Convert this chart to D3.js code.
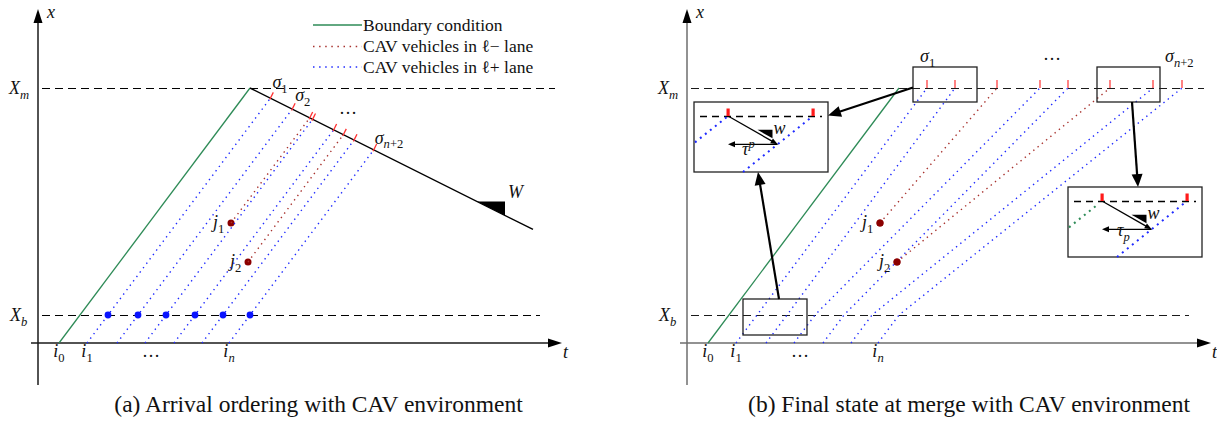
<!DOCTYPE html>
<html>
<head>
<meta charset="utf-8">
<script src="https://cdn.jsdelivr.net/npm/d3@7"></script>
<style>
  body { margin: 0; background: #fff; }
  svg { display: block; }
  text { font-family: "Liberation Serif", "Times New Roman", serif; fill: #111; }
</style>
</head>
<body>
<svg id="chart" width="1217" height="422"></svg>
<script>
// ---------------- data (time t on the horizontal axis, position x on the vertical) ----------------
const Xb = 2.8;                 // entry of the control zone
const Xm = 25.5;                // merge point
const freeFlow = 1.335;         // free-flow speed, dx/dt
const waveSpeed = -0.5;         // backward wave W, dx/dt
const boundaryT0 = 2.1;         // i0 : boundary trajectory leaves x = 0
const waveEndT = 49.5;          // end of the drawn wave
const plusEntryT = [7.0, 10.0, 12.8, 15.7, 18.5, 21.2];   // ℓ+ vehicles reaching X_b
const minusT = [19.3, 21.0];                              // j1, j2 (time)
const minusX = [12.0, 8.1];                               // j1, j2 (position)
const minusNames = ["1", "2"];
const plusMergeT = [24.0, 26.8, 35.3, 38.1, 46.6, 49.5];  // final state: ℓ+ at X_m
const minusMergeT = [31.0, 42.3];                         // final state: ℓ− at X_m
const legendLabels = ["Boundary condition", "CAV vehicles in \u2113\u2212 lane", "CAV vehicles in \u2113+ lane"];
const captions = ["(a) Arrival ordering with CAV environment", "(b) Final state at merge with CAV environment"];

// ---------------- styles ----------------
const GREEN = "#2e8b57", BLUE = "#1f2bff", RED_DOT = "#a8322e", DARK_RED = "#8b0000", TICK_RED = "#ff3030";

const svg = d3.select("#chart");
const tScale = d3.scaleLinear().domain([0, 52.4]).range([38, 562]);
const xScale = d3.scaleLinear().domain([0, 33.3]).range([343, 10]);
const path = d3.line().x(d => tScale(d[0])).y(d => xScale(d[1]));

const arrivalT = plusEntryT.map(t => t - Xb / freeFlow);       // crossing x = 0
const boundaryTm = boundaryT0 + Xm / freeFlow;                   // boundary reaching X_m
const waveX = t => Xm + waveSpeed * (t - boundaryTm);

function math(g, x, y, base, sub, sup, anchor = "start", size = 18) {
  const t = g.append("text").attr("x", x).attr("y", y)
    .attr("text-anchor", anchor).style("font-size", size + "px");
  t.append("tspan").style("font-style", "italic").text(base);
  if (sub) {
    let first = true;
    sub.forEach(([s, it]) => {
      const sp = t.append("tspan").style("font-size", (size * 0.7) + "px")
        .style("font-style", it ? "italic" : "normal").text(s);
      if (first) { sp.attr("dy", size * 0.25); first = false; }
    });
  }
  if (sup) {
    t.append("tspan").attr("dy", -size * 0.38).style("font-size", (size * 0.7) + "px")
      .style("font-style", "italic").text(sup);
  }
  return t;
}

function arrow(g, x1, y1, x2, y2, w, hl, hw, color = "#000") {
  const a = Math.atan2(y2 - y1, x2 - x1);
  const bx = x2 - hl * Math.cos(a), by = y2 - hl * Math.sin(a);
  g.append("line").attr("x1", x1).attr("y1", y1).attr("x2", bx + Math.cos(a)).attr("y2", by + Math.sin(a))
    .attr("stroke", color).attr("stroke-width", w);
  const nx = -Math.sin(a), ny = Math.cos(a);
  g.append("path").attr("d", `M${x2},${y2}L${bx + nx * hw},${by + ny * hw}L${bx - nx * hw},${by - ny * hw}Z`)
    .attr("fill", color);
}

function dotted(g, pts, color, w = 1.4, dash = "1.4,4.1") {
  g.append("path").attr("d", path(pts)).attr("fill", "none")
    .attr("stroke", color).attr("stroke-width", w).attr("stroke-dasharray", dash);
}

// axes, reference lines and common labels
function frame(g, axisColor, dashColor) {
  const ox = tScale(0), oy = xScale(0);
  g.append("line").attr("x1", ox).attr("x2", ox).attr("y1", xScale(-4.2)).attr("y2", 22)
    .attr("stroke", axisColor).attr("stroke-width", 1.5);
  g.append("path").attr("d", `M${ox},9L${ox - 4.5},23L${ox + 4.5},23Z`).attr("fill", "#000");
  g.append("line").attr("x1", tScale(-0.7)).attr("x2", 549).attr("y1", oy).attr("y2", oy)
    .attr("stroke", axisColor).attr("stroke-width", 1.6);
  g.append("path").attr("d", `M562,${oy}L548,${oy - 4.5}L548,${oy + 4.5}Z`).attr("fill", "#000");

  const ym = Math.round(xScale(Xm)) + 0.5, yb = Math.round(xScale(Xb)) + 0.5;
  g.append("line").attr("x1", tScale(0.4)).attr("x2", tScale(51.7)).attr("y1", ym).attr("y2", ym)
    .attr("stroke", dashColor).attr("stroke-width", 1.2).attr("stroke-dasharray", "8,5");
  g.append("line").attr("x1", tScale(0.4)).attr("x2", tScale(50.2)).attr("y1", yb).attr("y2", yb)
    .attr("stroke", dashColor).attr("stroke-width", 1.2).attr("stroke-dasharray", "8,5");

  math(g, ox + 9, 18, "x");
  math(g, 563, 358, "t");
  math(g, 9, xScale(Xm) + 6, "X", [["m", true]]);
  math(g, 10, xScale(Xb) + 6, "X", [["b", true]]);

  const ly = 357;
  math(g, tScale(boundaryT0), ly, "i", [["0", false]], null, "middle");
  math(g, tScale(arrivalT[0]), ly, "i", [["1", false]], null, "middle");
  g.append("text").attr("x", tScale(arrivalT[0] + 0.45 * (arrivalT[5] - arrivalT[0])))
    .attr("y", ly).attr("text-anchor", "middle").style("font-size", "18px").text("\u2026");
  math(g, tScale(arrivalT[5]), ly, "i", [["n", true]], null, "middle");

  // boundary trajectory
  g.append("path").attr("d", path([[boundaryT0, 0], [boundaryTm, Xm]]))
    .attr("stroke", GREEN).attr("stroke-width", 1.3).attr("fill", "none");

  // ℓ− vehicles
  minusT.forEach((t, k) => {
    g.append("circle").attr("cx", tScale(t)).attr("cy", xScale(minusX[k])).attr("r", 3.5).attr("fill", DARK_RED);
    math(g, tScale(t) - 18, xScale(minusX[k]) + 5, "j", [[minusNames[k], false]]);
  });
}

// ================= panel (a) =================
const gA = svg.append("g");
frame(gA, "#1a1a1a", "#000");

// wave line W
gA.append("path").attr("d", path([[boundaryTm, Xm], [waveEndT, waveX(waveEndT)]]))
  .attr("stroke", "#000").attr("stroke-width", 1.4).attr("fill", "none");
const tw1 = 43.9, tw2 = 46.7;
gA.append("path").attr("d", path([[tw1, waveX(tw1)], [tw2, waveX(tw1)], [tw2, waveX(tw2)]]) + "Z")
  .attr("fill", "#000");
math(gA, tScale(tw2) + 3, xScale(waveX(tw1)) - 3, "W");

// trajectories up to the wave
const hitWave = (t0, x0) => (Xm - x0 + freeFlow * t0 - waveSpeed * boundaryTm) / (freeFlow - waveSpeed);
const hitsA = [];
plusEntryT.forEach((tb, k) => {
  const th = hitWave(tb, Xb);
  dotted(gA, [[arrivalT[k], 0], [th, waveX(th)]], BLUE);
  hitsA.push(th);
});
minusT.forEach((tj, k) => {
  const th = hitWave(tj, minusX[k]);
  dotted(gA, [[tj, minusX[k]], [th, waveX(th)]], RED_DOT);
  hitsA.push(th);
});
// red marks perpendicular to the wave
hitsA.forEach(th => {
  const cx = tScale(th), cy = xScale(waveX(th));
  const ux = 0.447, uy = -0.894;
  gA.append("line").attr("x1", cx - ux * 1.5).attr("y1", cy - uy * 1.5)
    .attr("x2", cx + ux * 6.5).attr("y2", cy + uy * 6.5)
    .attr("stroke", TICK_RED).attr("stroke-width", 1.3);
});
plusEntryT.forEach(tb => {
  gA.append("circle").attr("cx", tScale(tb)).attr("cy", xScale(Xb)).attr("r", 3.4).attr("fill", "#0a14ff");
});
// σ labels
const hs = hitsA.slice(0, 6);
const hpt = t => [tScale(t), xScale(waveX(t))];
let p = hpt(hs[0]); math(gA, p[0] + 2, p[1] - 10, "\u03c3", [["1", false]]);
p = hpt(hs[1]); math(gA, p[0] + 3, p[1] - 8, "\u03c3", [["2", false]]);
p = hpt((hs[1] + hs[5]) / 2);
gA.append("text").attr("x", p[0] + 6).attr("y", p[1] - 15).style("font-size", "18px").text("\u2026");
p = hpt(hs[5]); math(gA, p[0] + 1, p[1] - 6, "\u03c3", [["n", true], ["+2", false]]);

// legend
const legY = [25, 46.5, 67];
const legStyles = [
  { c: GREEN, dash: null, w: 1.3 },
  { c: RED_DOT, dash: "1.5,4.6", w: 1.5 },
  { c: BLUE, dash: "1.5,4.6", w: 1.5 }
];
legendLabels.forEach((lab, k) => {
  const l = gA.append("line").attr("x1", 313).attr("x2", 362).attr("y1", legY[k]).attr("y2", legY[k])
    .attr("stroke", legStyles[k].c).attr("stroke-width", legStyles[k].w);
  if (legStyles[k].dash) l.attr("stroke-dasharray", legStyles[k].dash);
  gA.append("text").attr("x", 363).attr("y", legY[k] + 5.8).style("font-size", "17.5px").text(lab);
});

// ================= panel (b) =================
const gB = svg.append("g").attr("transform", "translate(649,0)");
frame(gB, "#6e6e6e", "#1a1a1a");

plusEntryT.forEach((tb, k) => {
  dotted(gB, [[arrivalT[k], 0], [tb, Xb], [plusMergeT[k], Xm]], BLUE);
});
minusT.forEach((tj, k) => {
  dotted(gB, [[tj, minusX[k]], [minusMergeT[k], Xm]], RED_DOT);
});
minusT.forEach((t, k) => {
  gB.append("circle").attr("cx", tScale(t)).attr("cy", xScale(minusX[k])).attr("r", 3.5).attr("fill", DARK_RED);
});
plusMergeT.concat(minusMergeT).forEach(t => {
  gB.append("line").attr("x1", tScale(t)).attr("x2", tScale(t))
    .attr("y1", xScale(Xm) - 8).attr("y2", xScale(Xm))
    .attr("stroke", TICK_RED).attr("stroke-width", 1.4).attr("opacity", 0.85);
});

function box(g, t0, t1, x0, x1) {
  g.append("rect").attr("x", tScale(t0)).attr("y", xScale(x1))
    .attr("width", tScale(t1) - tScale(t0)).attr("height", xScale(x0) - xScale(x1))
    .attr("fill", "none").attr("stroke", "#222").attr("stroke-width", 1.3);
}
box(gB, 22.6, 29.0, 24.1, 27.6);   // around σ1
box(gB, 41.0, 47.3, 24.1, 27.6);   // around σn+2
box(gB, 5.6, 12.0, 0.8, 4.4);      // around X_b

math(gB, tScale(22.6) + 7, 62, "\u03c3", [["1", false]]);
gB.append("text").attr("x", tScale(35.6)).attr("y", 60).style("font-size", "18px").text("\u2026");
math(gB, tScale(47.3) + 5, 62, "\u03c3", [["n", true], ["+2", false]]);

// magnified views of the headway at the merge
function inset(x0, y0, leadColor, leadStop, tauSub, tauSup) {
  const g = svg.append("g").attr("transform", `translate(${x0},${y0})`);
  const u = d3.scaleLinear().domain([-3.4, 10]).range([0, 134]);
  const v = d3.scaleLinear().domain([1.4, -5.6]).range([0, 70]);
  const ln = d3.line().x(d => u(d[0])).y(d => v(d[1]));
  const gap = 8.5, vehSlope = 0.8, wSlope = -0.57;
  g.append("rect").attr("width", 134).attr("height", 70).attr("fill", "#fff")
    .attr("stroke", "#222").attr("stroke-width", 1.3);
  g.append("line").attr("x1", 6).attr("x2", 128).attr("y1", v(0) + 0.5).attr("y2", v(0) + 0.5)
    .attr("stroke", "#000").attr("stroke-width", 1.5).attr("stroke-dasharray", "7,5");
  // leader and follower
  g.append("path").attr("d", ln([[-3.3, -3.3 * vehSlope], [leadStop, leadStop * vehSlope]]))
    .attr("stroke", leadColor).attr("stroke-width", 2).attr("stroke-dasharray", "2,4.4").attr("fill", "none");
  const tf0 = gap - 5.6 / vehSlope;
  g.append("path").attr("d", ln([[tf0, -5.6], [gap, 0]]))
    .attr("stroke", BLUE).attr("stroke-width", 2).attr("stroke-dasharray", "2,4.4").attr("fill", "none");
  // wave from the leader's mark to the follower
  const ti = vehSlope * gap / (vehSlope - wSlope), xi = wSlope * ti;
  arrow(g, u(0), v(0), u(ti), v(xi), 1.3, 7, 2.8);
  arrow(g, u(ti), v(xi), u(0), v(xi), 1.3, 7, 3);
  const ta = 2.95, tb = 4.45, off = 0.3;
  g.append("path").attr("d", ln([[ta, wSlope * ta + off], [tb, wSlope * ta + off], [tb, wSlope * tb + off]]) + "Z")
    .attr("fill", "#000");
  math(g, u(tb) + 1, 32, "w");
  if (tauSup) math(g, 48, 53, "\u03c4", null, tauSup);
  else math(g, 49, 49, "\u03c4", [[tauSub, true]]);
  [0, gap].forEach(t => {
    g.append("rect").attr("x", u(t) - 1.5).attr("y", v(0) - 7.5).attr("width", 3.2).attr("height", 7.5)
      .attr("fill", "#ff1a1a");
  });
}
inset(694, 102, BLUE, 0, null, "p");
inset(1068, 187, GREEN, -0.45, "p", null);

// arrows from the framed regions to the magnified views
arrow(svg, 913, 87.5, 828, 115.5, 2.2, 13, 5.5);
arrow(svg, 779, 299, 758, 172, 2.2, 13, 5.5);
arrow(svg, 1132, 102, 1138, 187, 2.2, 13, 5.5);

// captions
svg.append("text").attr("x", 318.5).attr("y", 412).attr("text-anchor", "middle")
  .style("font-size", "23.5px").text(captions[0]);
svg.append("text").attr("x", 969).attr("y", 412).attr("text-anchor", "middle")
  .style("font-size", "23.5px").text(captions[1]);
</script>
</body>
</html>
